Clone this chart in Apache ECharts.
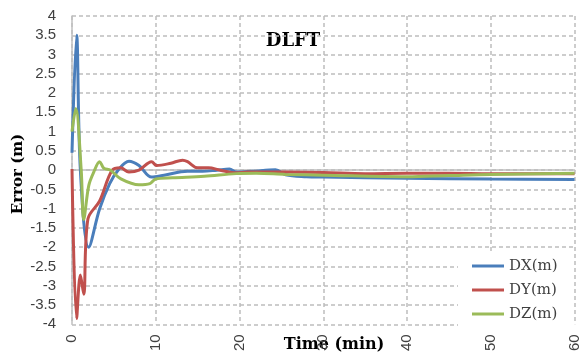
<!DOCTYPE html>
<html>
<head>
<meta charset="utf-8">
<script src="https://cdn.jsdelivr.net/npm/echarts@6/dist/echarts.min.js"></script>
<style>
  html, body { margin: 0; padding: 0; background: #fff; }
  #chart { width: 582px; height: 354px; }
</style>
</head>
<body>
<div id="chart"></div>
<script>
// time in minutes, error in metres
const dxTime = [0, 0.55, 1.0, 2.0, 3.3, 4.5, 5.5, 6.8, 8.0, 9.5, 11.0, 13.8, 15.6, 17.3, 18.8, 19.6, 21.5, 24.3, 25.5, 28, 30, 40, 50, 60];
const dxVal  = [0.45, 3.5, 0.0, -2.0, -1.0, -0.35, 0.0, 0.23, 0.12, -0.18, -0.13, -0.03, -0.03, 0.0, 0.03, -0.05, -0.03, 0.01, -0.12, -0.17, -0.18, -0.21, -0.23, -0.24];

const dyTime = [0, 0.55, 1.0, 1.4, 1.9, 3.3, 4.8, 5.8, 6.8, 8.0, 9.5, 10.1, 11.8, 13.2, 13.8, 15.0, 16.3, 17.7, 19.6, 21, 25.5, 30, 35, 40, 45, 50, 60];
const dyVal  = [0.03, -3.85, -2.72, -3.22, -1.27, -0.8, 0.0, 0.06, -0.05, 0.0, 0.22, 0.12, 0.18, 0.26, 0.22, 0.06, 0.06, 0.0, -0.07, -0.05, -0.05, -0.06, -0.09, -0.08, -0.08, -0.09, -0.09];

const dzTime = [0, 0.45, 1.1, 1.4, 2.0, 2.6, 3.3, 3.8, 4.6, 5.8, 8.0, 9.3, 10.0, 12.0, 15.8, 19.6, 22, 25.5, 30, 40, 45, 50, 60];
const dzVal  = [1.0, 1.6, 0.0, -1.28, -0.4, -0.05, 0.22, 0.05, 0.0, -0.22, -0.38, -0.35, -0.23, -0.2, -0.16, -0.09, -0.08, -0.11, -0.13, -0.17, -0.14, -0.11, -0.08];

const seriesNames = ['DX(m)', 'DY(m)', 'DZ(m)'];
const colors = ['#4a7ebb', '#c0504d', '#9bbb59'];

function pairs(ts, vs) {
    return ts.map((t, i) => [t, vs[i]]);
}

const chart = echarts.init(document.getElementById('chart'));
const labelFont = {color: '#404040', fontFamily: 'Liberation Sans', fontSize: 15};
const dashed = {show: true, lineStyle: {color: '#bdbdbd', width: 1.5, type: [4, 3]}};

const option = {
    animation: false,
    grid: {left: 72, right: 0, top: 16, bottom: 22},
    legend: {
        orient: 'vertical',
        left: 458,
        top: 253,
        padding: [4, 16, 6, 14],
        backgroundColor: '#fff',
        itemWidth: 32,
        itemHeight: 3,
        itemGap: 6,
        icon: 'rect',
        z: 10,
        textStyle: {fontFamily: 'DejaVu Serif', fontSize: 15, color: '#404040', lineHeight: 18},
        data: seriesNames
    },
    xAxis: {
        type: 'value',
        min: 0,
        max: 60,
        interval: 10,
        axisLine: {onZero: true, lineStyle: {color: '#bfbfbf', width: 1.5}},
        axisTick: {show: false},
        axisLabel: Object.assign({rotate: 90, margin: 10}, labelFont),
        splitLine: dashed
    },
    yAxis: {
        type: 'value',
        min: -4,
        max: 4,
        interval: 0.5,
        axisLine: {show: true, lineStyle: {color: '#bfbfbf', width: 1.5}},
        axisTick: {show: false},
        axisLabel: Object.assign({margin: 16}, labelFont),
        splitLine: dashed
    },
    graphic: [
        {type: 'text', x: 293, y: 41, style: {text: 'DLFT', font: 'bold 18px "DejaVu Serif"', fill: '#000', align: 'center', verticalAlign: 'middle'}},
        {type: 'text', x: 334, y: 345, style: {text: 'Time (min)', font: 'bold 16px "DejaVu Serif"', fill: '#000', align: 'center', verticalAlign: 'middle'}},
        {type: 'text', x: 18, y: 174, rotation: Math.PI / 2, style: {text: 'Error (m)', font: 'bold 15px "DejaVu Serif"', fill: '#000', align: 'center', verticalAlign: 'middle'}}
    ],
    series: [
        {name: seriesNames[0], data: pairs(dxTime, dxVal)},
        {name: seriesNames[1], data: pairs(dyTime, dyVal)},
        {name: seriesNames[2], data: pairs(dzTime, dzVal)}
    ].map((s, i) => Object.assign({
        type: 'line',
        smooth: 0.35,
        showSymbol: false,
        symbol: 'none',
        color: colors[i],
        lineStyle: {width: 3, color: colors[i]}
    }, s))
};

chart.setOption(option);
</script>
</body>
</html>
